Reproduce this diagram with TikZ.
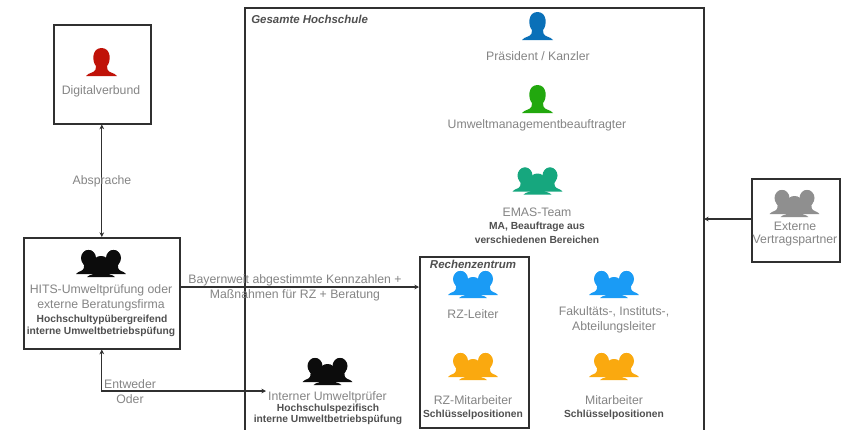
\documentclass[tikz,border=0pt]{standalone}
\usepackage{fontspec}
\setmainfont{Liberation Sans}
\usetikzlibrary{arrows.meta}
\definecolor{txtgray}{HTML}{858585}
\definecolor{boldgray}{HTML}{505050}
\definecolor{linecol}{HTML}{303030}
\definecolor{cBlue}{HTML}{0A70B8}
\definecolor{cGreen}{HTML}{22A80E}
\definecolor{cTeal}{HTML}{16A77E}
\definecolor{cSky}{HTML}{1A9BF5}
\definecolor{cOrange}{HTML}{FAA90F}
\definecolor{cRed}{HTML}{C01208}
\definecolor{cGray}{HTML}{8F8F8F}
\definecolor{cBlack}{HTML}{0C0C0C}
\newcommand{\personpath}{(-15.5,0) .. controls (-13,-3.5) and (-7,-3) .. (-6,-6.5) -- (-5.5,-10) .. controls (-9.5,-14) and (-10,-28) .. (0,-28) .. controls (10,-28) and (9.5,-14) .. (5.5,-10) -- (6,-6.5) .. controls (7,-3) and (13,-3.5) .. (15.5,0) -- cycle}
\tikzset{
  x=0.75pt, y=-0.75pt,
  pics/person/.style={code={\fill[#1] \personpath;}},
  pics/people/.style={code={
    \fill[#1,shift={(-12.5,-3)},xscale=.8,yscale=.86] \personpath;
    \fill[#1,shift={(12.5,-3)},xscale=.8,yscale=.86] \personpath;
    \fill[#1,shift={(0,0)},xscale=.9,yscale=.75] \personpath;
    \fill[#1] (-12.5,-19) ellipse [x radius=7.5,y radius=8];
    \fill[#1] (12.5,-19) ellipse [x radius=7.5,y radius=8];
    \fill[#1] (-17,-4) .. controls (-13,-7) and (-10,-8) .. (-9,-14) -- (9,-14) .. controls (10,-8) and (13,-7) .. (17,-4) -- cycle;
  }},
  frame/.style={draw=linecol,line width=1.2pt,fill=none,inner sep=0pt,anchor=north west},
  conn/.style={draw=linecol,line width=0.9pt,-{Stealth[length=3.5pt,width=3.5pt]}},
  twoway/.style={conn,{Stealth[length=3.5pt,width=3.5pt]}-{Stealth[length=3.5pt,width=3.5pt]}},
  lab/.style={text=txtgray,font=\fontsize{9.2pt}{11pt}\selectfont,inner sep=0pt,align=center},
  sub/.style={text=boldgray,font=\fontsize{7.7pt}{9pt}\selectfont\bfseries,inner sep=0pt,align=center},
  head/.style={text=boldgray,font=\fontsize{8.6pt}{10pt}\selectfont\bfseries\itshape,inner sep=0pt},
}
\begin{document}
\begin{tikzpicture}
\useasboundingbox (0,0) rectangle (848,429);
\clip (0,0) rectangle (848,429);
\fill[white] (0,0) rectangle (848,429);
% frames
\node[frame,minimum width=97*0.75pt,minimum height=99*0.75pt] (digital) at (53,24) {};
\node[frame,minimum width=156*0.75pt,minimum height=111*0.75pt] (hits) at (23,237) {};
\node[frame,minimum width=459*0.75pt,minimum height=440*0.75pt] (gesamt) at (244,7) {};
\node[frame,minimum width=109*0.75pt,minimum height=171*0.75pt] (rz) at (419,256) {};
\node[frame,minimum width=88*0.75pt,minimum height=83*0.75pt] (extern) at (751,178) {};
\coordinate (rzin) at (419,287);
\coordinate (hitsout) at (179,287);
\coordinate (gesin) at (704,219);
\coordinate (extout) at (751,219);
\coordinate (pruefer) at (266,391);
% connectors
\draw[twoway] (digital.south -| hits.south) -- (hits.north);
\draw[conn] (hitsout) -- (rzin);
\draw[conn] (extout) -- (gesin);
\draw[twoway] (hits.south) |- (pruefer);
% icons
\pic at (101.5,76) {person=cRed};
\pic at (537.5,40) {person=cBlue};
\pic at (537.5,113) {person=cGreen};
\pic at (537.5,194.5) {people=cTeal};
\pic at (101,277) {people=cBlack};
\pic at (327.5,385) {people=cBlack};
\pic at (794.5,217) {people=cGray};
\pic at (473,298) {people=cSky};
\pic at (614,298) {people=cSky};
\pic at (473,380) {people=cOrange};
\pic at (614,380) {people=cOrange};
% texts
\node[lab] (tdigital) at (101,91.5) {Digitalverbund};
\node[lab] (tabsprache) at (102,181.5) {Absprache};
\node[lab] (thits1) at (101,290.5) {HITS-Umweltprüfung oder};
\node[lab] (thits2) at (101,305.5) {externe Beratungsfirma};
\node[sub] (thits3) at (102,320) {Hochschultypübergreifend};
\node[sub] (thits4) at (101,332) {interne Umweltbetriebspüfung};
\node[lab] (tbay1) at (295,280) {Bayernweit abgestimmte Kennzahlen +};
\node[lab] (tbay2) at (295,295) {Maßnahmen für RZ + Beratung};
\node[lab] (tent) at (130,384) {Entweder};
\node[lab] (toder) at (130,399) {Oder};
\node[lab] (tint1) at (327.5,397) {Interner Umweltprüfer};
\node[sub] (tint2) at (328,409) {Hochschulspezifisch};
\node[sub] (tint3) at (328,419.5) {interne Umweltbetriebspüfung};
\node[head,anchor=west] (tges) at (251,19) {Gesamte Hochschule};
\node[lab] (tpres) at (538,56) {Präsident / Kanzler};
\node[lab] (tumw) at (537,125) {Umweltmanagementbeauftragter};
\node[lab] (temas) at (537,212) {EMAS-Team};
\node[sub] (tmas1) at (537,227) {MA, Beauftrage aus};
\node[sub] (tmas2) at (537,240) {verschiedenen Bereichen};
\node[head] (trz) at (473,264) {Rechenzentrum};
\node[lab] (trzl) at (473,314) {RZ-Leiter};
\node[lab] (tfak1) at (614,312) {Fakultäts-, Instituts-,};
\node[lab] (tfak2) at (614,327) {Abteilungsleiter};
\node[lab] (trzm) at (473,400) {RZ-Mitarbeiter};
\node[sub] (trzs) at (473,415) {Schlüsselpositionen};
\node[lab] (tmit) at (614,400) {Mitarbeiter};
\node[sub] (tmits) at (614,415) {Schlüsselpositionen};
\node[lab] (text1) at (795,226) {Externe};
\node[lab] (text2) at (795,241) {Vertragspartner};
\end{tikzpicture}
\end{document}
